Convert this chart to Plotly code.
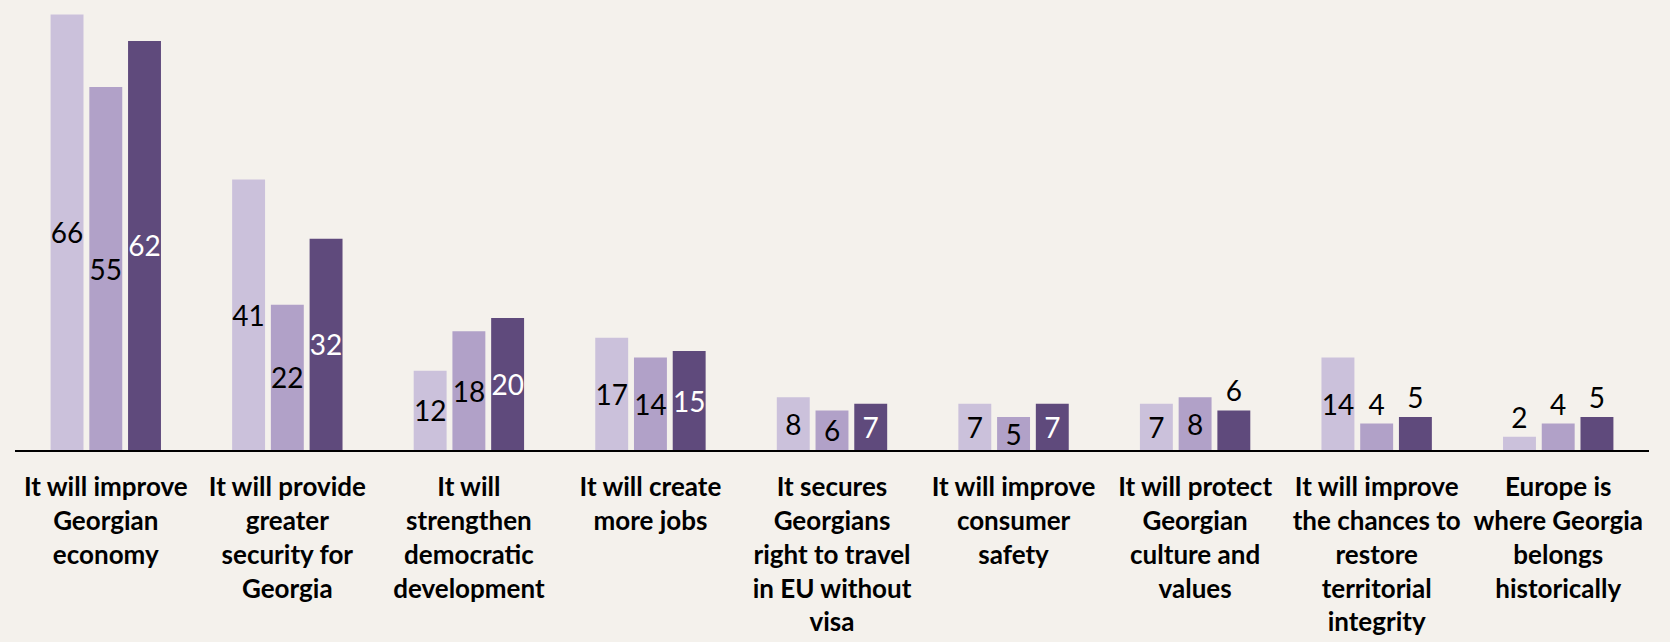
import plotly.graph_objects as go

categories = [
    "It will improve<br>Georgian<br>economy",
    "It will provide<br>greater<br>security for<br>Georgia",
    "It will<br>strengthen<br>democratic<br>development",
    "It will create<br>more jobs",
    "It secures<br>Georgians<br>right to travel<br>in EU without<br>visa",
    "It will improve<br>consumer<br>safety",
    "It will protect<br>Georgian<br>culture and<br>values",
    "It will improve<br>the chances to<br>restore<br>territorial<br>integrity",
    "Europe is<br>where Georgia<br>belongs<br>historically",
]
series_names = ["Series 1", "Series 2", "Series 3"]
series1 = [66, 41, 12, 17, 8, 7, 7, 14, 2]
series2 = [55, 22, 18, 14, 6, 5, 8, 4, 4]
series3 = [62, 32, 20, 15, 7, 7, 6, 5, 5]

colors = ["#CBC1DB", "#B1A1C8", "#5F4A7C"]
inside_text_colors = ["#000000", "#000000", "#FFFFFF"]
# minimum value for an inside label, per series
inside_min = [5, 5, 7]

fig = go.Figure()
for name, vals, col, tcol, mn in zip(series_names, [series1, series2, series3], colors, inside_text_colors, inside_min):
    positions = ["inside" if v >= mn else "outside" for v in vals]
    tcolors = [tcol if p == "inside" else "#000000" for p in positions]
    fig.add_trace(go.Bar(
        x=categories, y=vals, name=name,
        marker=dict(color=col, line=dict(width=0)),
        text=[str(v) for v in vals],
        textposition=positions,
        insidetextanchor="middle",
        textangle=0,
        constraintext="none",
        textfont=dict(family="Lato", size=28, color=tcolors),
        cliponaxis=False,
    ))

fig.update_layout(
    width=1670, height=642,
    barmode="group", bargap=0.36, bargroupgap=0.15,
    paper_bgcolor="#F4F1EC", plot_bgcolor="#F4F1EC",
    margin=dict(l=15, r=21, t=0, b=192, autoexpand=False),
    showlegend=False,
    uniformtext=dict(minsize=28, mode="show"),
    font=dict(family="Lato", color="#000000"),
)
fig.update_xaxes(
    showline=True, linecolor="#000000", linewidth=2,
    showgrid=False, ticks="", automargin=False,
    tickfont=dict(family="Lato", size=26, color="#000000", weight="bold"),
    ticklabelstandoff=13,
)
fig.update_yaxes(range=[0, 68.2], visible=False, showgrid=False, zeroline=False, automargin=False)

fig.write_html(
    "out.html",
    config={"displayModeBar": False},
    post_script="document.body.style.margin='0';document.body.style.background='#F4F1EC';",
)
